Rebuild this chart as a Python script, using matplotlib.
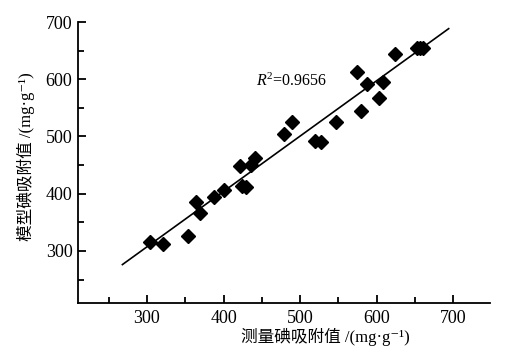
import matplotlib.pyplot as plt
from matplotlib.ticker import MultipleLocator

# measured vs model iodine adsorption values (mg/g)
measured = [303.9, 320.5, 353.0, 363.5, 369.4, 387.3, 400.7, 421.6, 423.8, 429.0,
            436.4, 441.6, 478.9, 489.3, 519.5, 526.7, 546.6, 574.0, 580.1, 587.6,
            603.6, 608.8, 624.2, 652.0, 656.0, 660.0]
model = [316.2, 312.2, 326.2, 385.0, 366.9, 394.8, 407.1, 449.0, 413.0, 411.3,
         450.2, 461.9, 503.8, 524.5, 492.1, 490.4, 524.8, 612.1, 543.7, 591.2,
         566.7, 595.7, 643.6, 655.0, 654.0, 655.0]

# fitted line
fit_slope = 0.968
fit_intercept = 16.7
fit_x = [268, 694]
r2_text = "$R^2$=0.9656"

fams = ['Liberation Serif', 'Noto Sans CJK SC', 'DejaVu Sans']
plt.rcParams['font.family'] = fams
plt.rcParams['mathtext.fontset'] = 'custom'
plt.rcParams['mathtext.rm'] = 'Liberation Serif'
plt.rcParams['mathtext.it'] = 'Liberation Serif:italic'

fig = plt.figure(figsize=(5.11, 3.5), dpi=100)
ax = fig.add_axes([0.1526, 0.1343, 0.8064, 0.8027])

ax.plot(fit_x, [fit_slope * v + fit_intercept for v in fit_x], color='black', lw=1.2)
ax.plot(measured, model, 'D', color='black', markersize=6.8, ls='none')

ax.text(443, 597, r2_text, fontsize=11.5, va='center', ha='left')

ax.set_xlim(210, 748)
ax.set_ylim(209, 700)
ax.xaxis.set_minor_locator(MultipleLocator(50))
ax.yaxis.set_minor_locator(MultipleLocator(50))
ax.set_xticks([300, 400, 500, 600, 700])
ax.set_yticks([300, 400, 500, 600, 700])

ax.spines['top'].set_visible(False)
ax.spines['right'].set_visible(False)
for s in ['left', 'bottom']:
    ax.spines[s].set_linewidth(1.3)
ax.tick_params(which='major', direction='in', length=6, width=1.3, labelsize=13, pad=5)
ax.tick_params(axis='y', which='major', pad=4)
ax.tick_params(which='minor', direction='in', length=4, width=1.3)

ax.set_xlabel("测量碘吸附值 /(mg·g⁻¹)", fontsize=12)
ax.set_ylabel("模型碘吸附值 /(mg·g⁻¹)", fontsize=12)
ax.xaxis.set_label_coords(0.6, -0.09)
ax.yaxis.set_label_coords(-0.105, 0.52)

fig.savefig("out.png", dpi=100)
